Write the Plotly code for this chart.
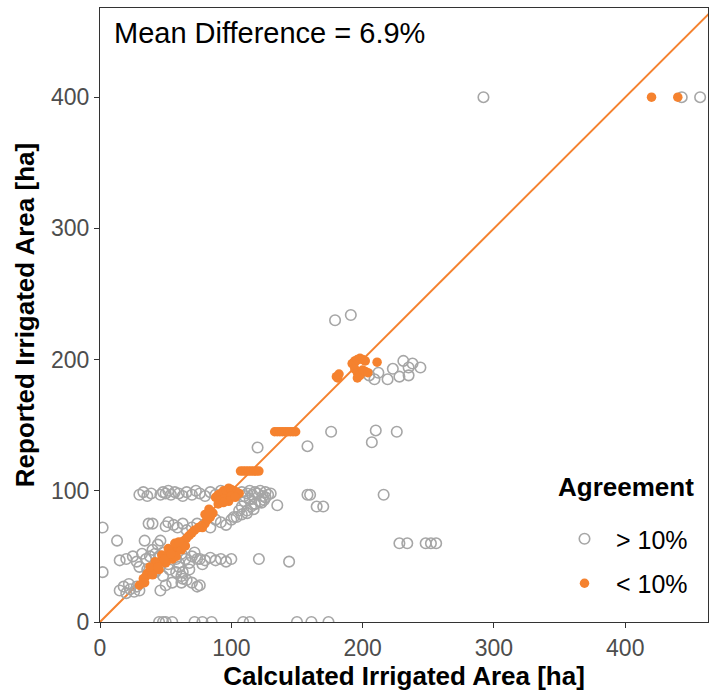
import plotly.graph_objects as go

# ---- data ----
# points with agreement worse than 10% (grey open circles)
grey_x = [292, 443, 457,
          179, 191,
          205, 209, 212, 219, 223, 228, 231, 235, 235, 238, 244,
          176, 158, 210, 207, 226, 120,
          160, 165, 170, 216,
          228, 234, 248, 252, 256,
          45, 48, 50, 55, 72, 78, 85, 109, 114, 150, 161, 174,
          121, 144,
          76, 80, 84, 88, 92, 96, 100, 78,
          76,
          2, 2, 15, 13,
          15, 18, 20, 23, 26, 28, 30, 22,
          30, 33, 36, 39, 46, 48, 50, 52, 54, 57, 60, 63, 66, 70, 73, 76, 80,
          84, 88, 92, 96, 104, 108, 110, 112, 114, 116, 118, 120, 122, 124, 126, 128, 130,
          37, 40, 50, 52, 56, 59, 63, 66, 70, 74, 84, 88, 92, 96, 100, 104, 108,
          112, 115, 118, 122, 126, 135, 158,
          34, 46, 44,
          20, 25, 28, 32, 35, 38, 40, 42, 45, 48, 50, 52, 55, 58, 60, 62, 65, 68,
          70, 72, 74, 30, 36, 42, 48, 53, 58, 62, 66, 70, 55, 50, 60, 63, 68,
          46, 62, 74, 63,
          110, 114, 118, 106, 112, 117, 123, 102, 108, 125]
grey_y = [400, 400, 400,
          230, 234,
          188, 185, 190, 185, 193, 187, 199, 194, 188, 197, 194,
          145, 134, 146, 137, 145, 133,
          97, 88, 88, 97,
          60, 60, 60, 60, 60,
          0, 0, 0, 0, 0, 0, 0, 0, 0, 0, 0, 0,
          48, 46,
          48, 47, 49, 47, 48, 46, 48, 44,
          28,
          72, 38, 47, 62,
          24, 27, 22, 25, 23, 27, 24, 29,
          97, 99, 96, 98, 97, 99, 98, 100, 97, 99, 98, 96, 99, 97, 100, 98, 96,
          99, 97, 100, 98, 97, 99, 96, 98, 100, 97, 99, 98, 100, 96, 99, 97, 98,
          75, 75, 73, 76, 74, 72, 75, 70, 72, 75, 72, 78, 76, 74, 78, 80, 82,
          85, 88, 90, 92, 95, 89, 97,
          62, 62, 59,
          48, 50, 46, 52, 48, 50, 55, 52, 50, 53, 47, 44, 50, 48, 45, 52, 48, 45,
          50, 53, 48, 42, 40, 38, 35, 40, 38, 35, 32, 30, 30, 28, 42, 38, 40,
          24, 30, 27, 33,
          92, 94, 90, 85, 83, 86, 91, 80, 88, 93]

# points with agreement better than 10% (orange filled)
orange_x = [420, 440,
            180, 181, 182, 192, 194, 196, 198, 200, 202, 194, 196, 196, 198, 200, 202, 204, 211,
            133, 135, 137, 139, 141, 143, 145, 147, 149,
            107, 109, 111, 113, 115, 117, 119, 121,
            88, 90, 92, 94, 96, 98, 100, 102, 104, 106, 92, 95, 100, 98, 103, 90, 94,
            80, 82, 84, 86, 78, 75, 72, 70, 68, 66, 64, 62, 60, 58, 56, 54, 52, 50,
            48, 46, 44, 42, 40, 38, 36, 35, 33, 34, 30, 55, 58, 50, 45, 40, 62, 65,
            42, 47, 52, 57, 38, 44, 49, 54, 60, 80, 83]
orange_y = [400, 400,
            187, 186, 189, 197, 199, 200, 201, 200, 199, 193, 190, 186, 188, 192, 191, 190, 198,
            145, 145, 145, 145, 145, 145, 145, 145, 145,
            115, 115, 115, 115, 115, 115, 115, 115,
            95, 97, 98, 100, 100, 102, 101, 100, 99, 98, 93, 94, 96, 92, 95, 90, 91,
            75, 78, 80, 83, 72, 72, 70, 68, 66, 64, 62, 60, 58, 56, 54, 55, 52, 50,
            48, 46, 45, 42, 40, 38, 37, 35, 33, 30, 28, 48, 50, 45, 40, 36, 55, 58,
            46, 51, 56, 60, 42, 42, 48, 52, 61, 82, 86]

line_x = [0, 470]
line_y = [0, 470]
tick_vals = [0, 100, 200, 300, 400]

ORANGE = "#F5822F"
GREY = "#A6A6A6"
FONT = "Liberation Sans, Arial, sans-serif"

fig = go.Figure()
fig.add_trace(go.Scatter(x=line_x, y=line_y, mode="lines",
                         line=dict(color=ORANGE, width=2), showlegend=False,
                         hoverinfo="skip"))
fig.add_trace(go.Scatter(x=grey_x, y=grey_y, mode="markers", name="&gt; 10%",
                         legendgroup="a",
                         marker=dict(symbol="circle-open", size=10.5, color=GREY,
                                     line=dict(width=1.6, color=GREY))))
fig.add_trace(go.Scatter(x=orange_x, y=orange_y, mode="markers", name="&lt; 10%",
                         legendgroup="b",
                         marker=dict(symbol="circle", size=9.5, color=ORANGE,
                                     line=dict(width=0))))

axis_common = dict(showgrid=False, zeroline=False, showline=True, mirror=True,
                   linecolor="#333333", linewidth=1, ticks="outside", ticklen=5,
                   tickcolor="#333333", tickwidth=1.2,
                   tickfont=dict(family=FONT, size=23, color="#4D4D4D"),
                   tickvals=tick_vals)

fig.update_xaxes(range=[0, 463], title=dict(text="<b>Calculated Irrigated Area [ha]</b>",
                 font=dict(family=FONT, size=26, color="#000000"), standoff=6),
                 **axis_common)
fig.update_yaxes(range=[0, 468], title=dict(text="<b>Reported Irrigated Area [ha]</b>",
                 font=dict(family=FONT, size=26, color="#000000"), standoff=8),
                 **axis_common)

fig.add_annotation(xref="paper", yref="paper", x=0.02, y=1 - 25 / 614,
                   xanchor="left", yanchor="middle", showarrow=False,
                   text="Mean Difference = 6.9%",
                   font=dict(family=FONT, size=29, color="#000000"))

# legend title drawn as its own text so that its gap to the entries matches
fig.add_annotation(xref="paper", yref="paper", x=(626 - 100) / 608, y=(622 - 487) / 614,
                   xanchor="center", yanchor="middle", showarrow=False,
                   text="<b>Agreement</b>",
                   font=dict(family=FONT, size=26, color="#000000"))

fig.update_layout(
    width=712, height=694,
    margin=dict(l=100, r=4, t=8, b=72),
    plot_bgcolor="white", paper_bgcolor="white",
    font=dict(family=FONT),
    legend=dict(x=(553 - 100) / 608, y=(622 - 516) / 614, xanchor="left", yanchor="top",
                bgcolor="rgba(255,255,255,0)", traceorder="grouped",
                font=dict(family=FONT, size=25, color="#000000"),
                itemwidth=53, tracegroupgap=9),
)

fig.write_html("out.html")
